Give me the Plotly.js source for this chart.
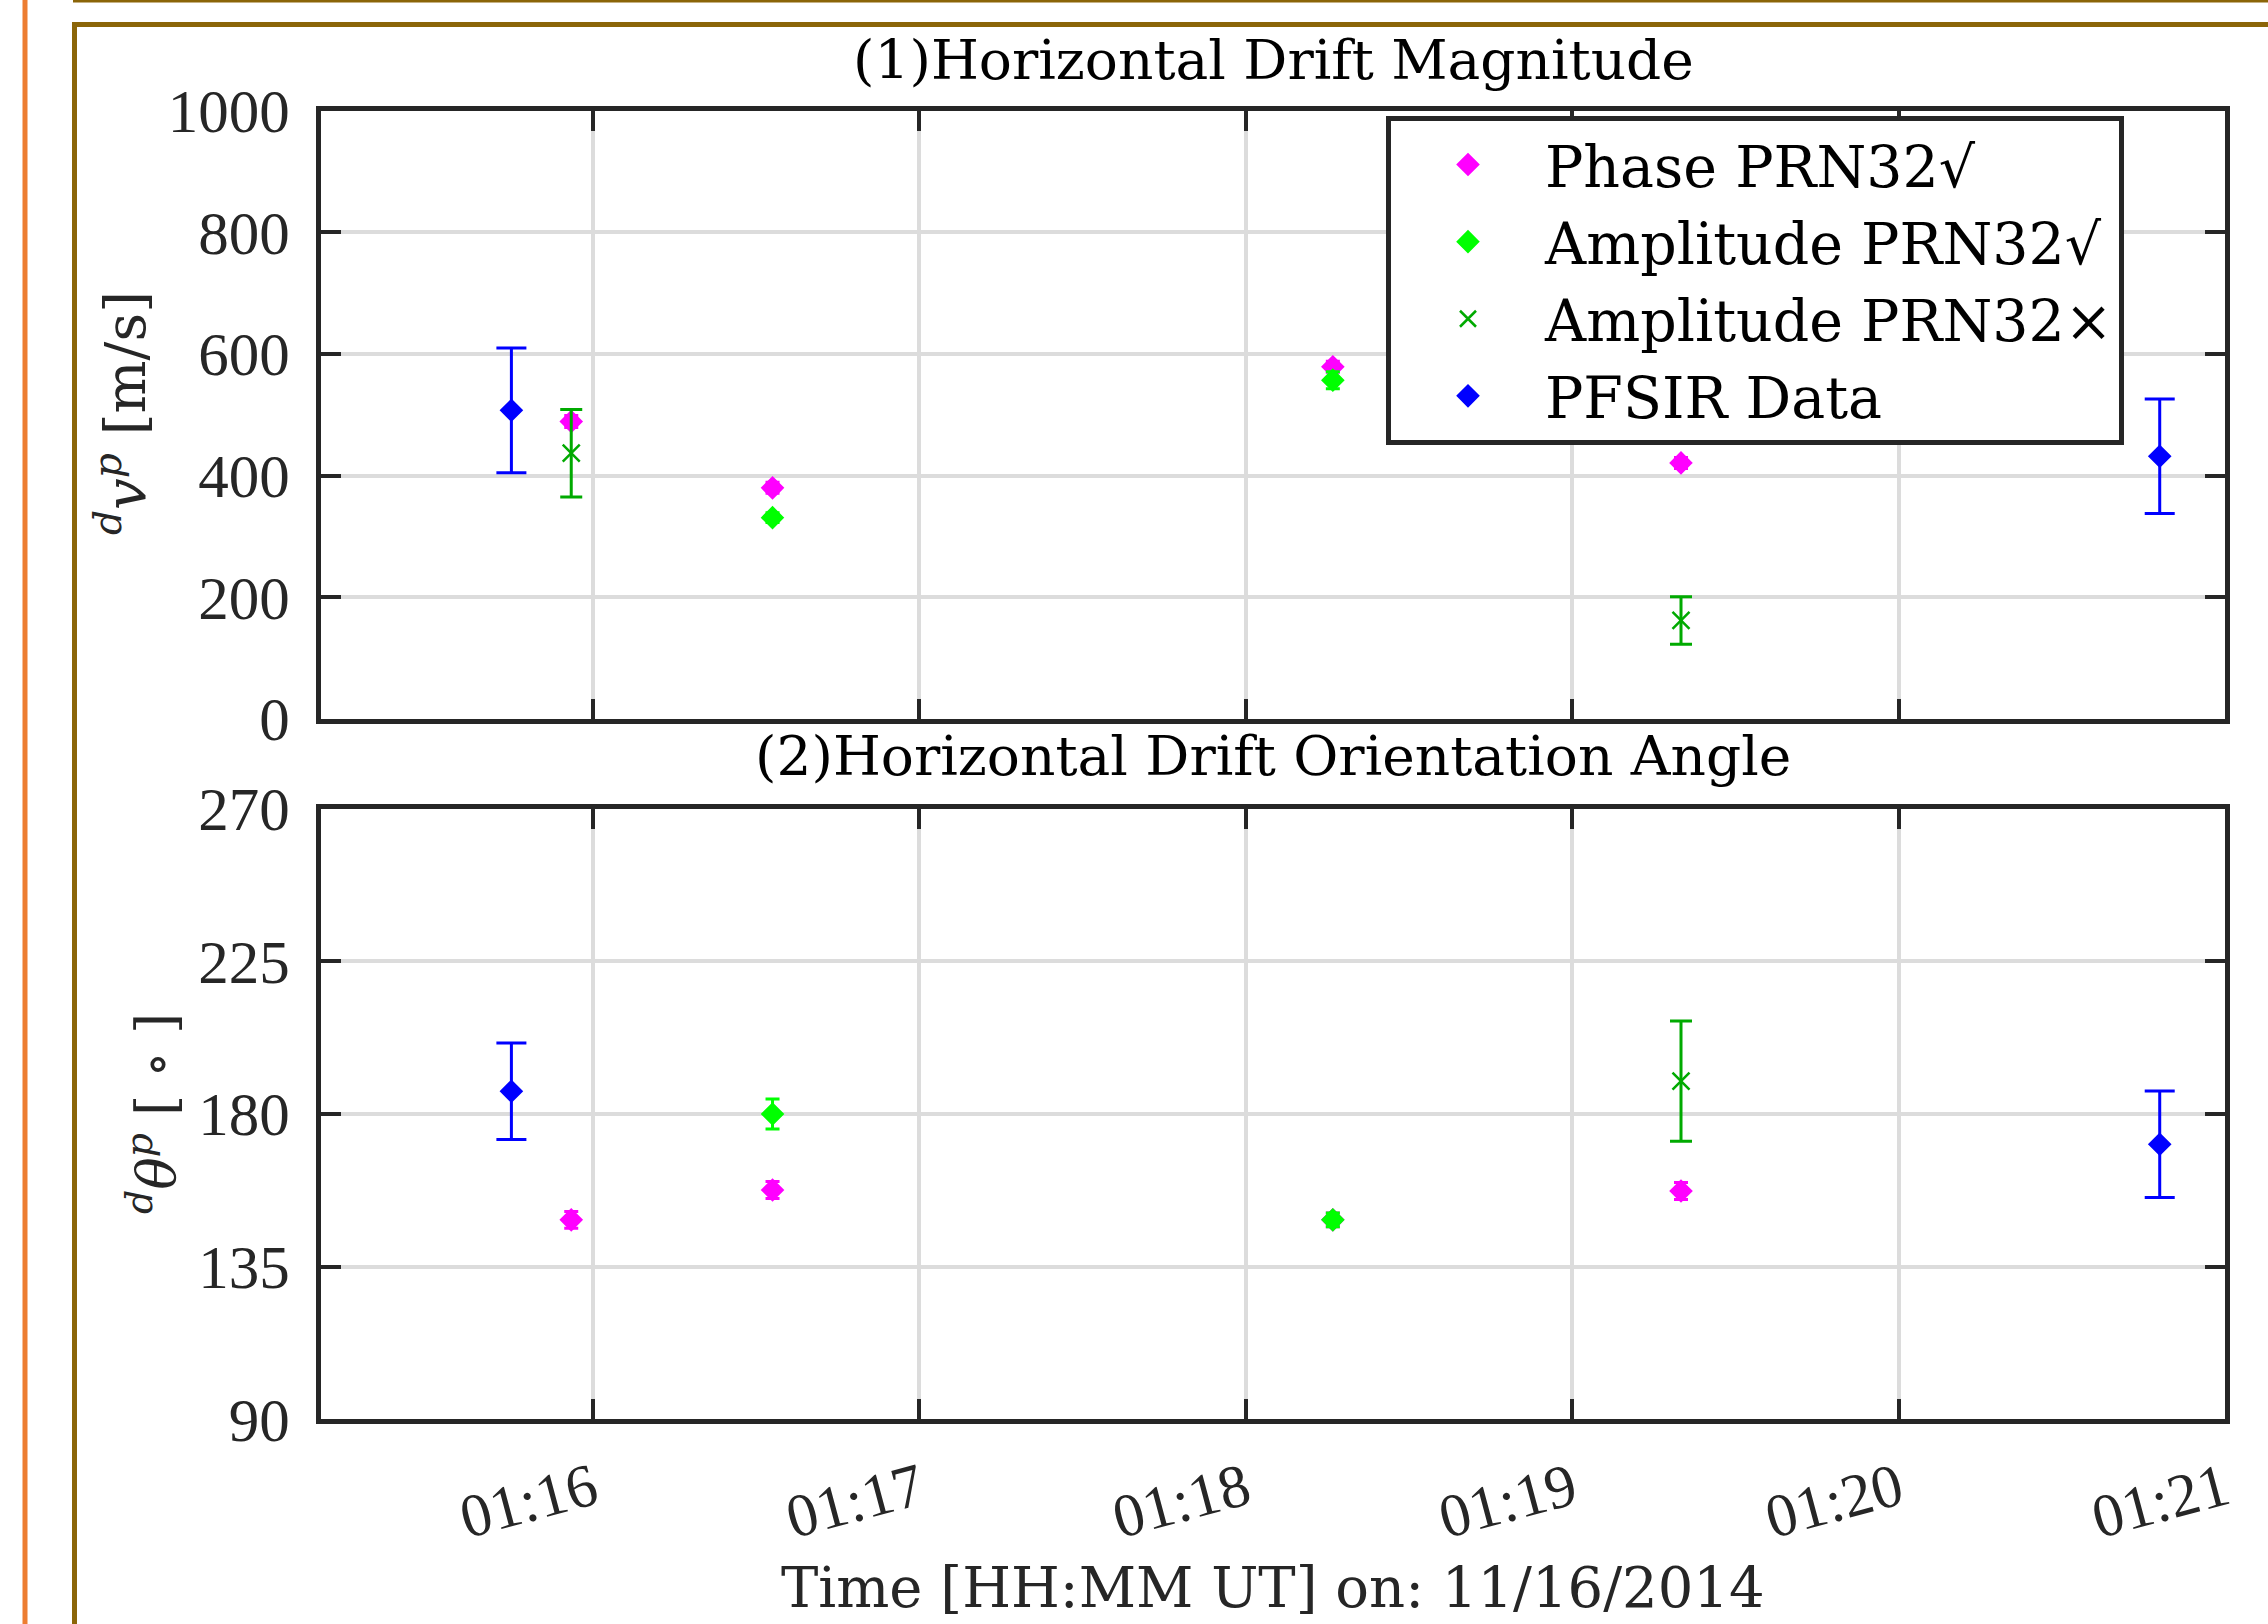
<!DOCTYPE html>
<html>
<head>
<meta charset="utf-8">
<script src="https://cdn.plot.ly/plotly-3.0.1.min.js"></script>
<style>
  html, body { margin: 0; padding: 0; background: #ffffff; }
  #chart { width: 2268px; height: 1624px; }
</style>
</head>
<body>
<div id="chart"></div>
<script>
// ---- Phase PRN32 (accepted) ----
const phaseTime = ['2014-11-16 01:15:56', '2014-11-16 01:16:33', '2014-11-16 01:18:16', '2014-11-16 01:19:20'];
const phaseSpeed = [489, 380, 579, 421];
const phaseSpeedErr = [10, 9, 9, 9];
const phaseAngle = [148.8, 157.6, 148.8, 157.3];
const phaseAngleErr = [2.5, 2.5, 2, 2.5];

// ---- Amplitude PRN32 (accepted) ----
const ampOkTime = ['2014-11-16 01:16:33', '2014-11-16 01:18:16'];
const ampOkSpeed = [331, 557];
const ampOkSpeedErr = [8, 14];
const ampOkAngle = [180, 148.8];
const ampOkAngleErr = [4.4, 2];

// ---- Amplitude PRN32 (rejected) ----
const ampBadTime = ['2014-11-16 01:15:56', '2014-11-16 01:19:20'];
const ampBadSpeed = [437, 162];
const ampBadSpeedErr = [72, 39];
const ampBadAngle = [null, 189.7];
const ampBadAngleErr = [0, 17.7];

// ---- PFSIR radar ----
const pfsirTime = ['2014-11-16 01:15:45', '2014-11-16 01:20:48'];
const pfsirSpeed = [507.5, 432];
const pfsirSpeedErr = [102.5, 94];
const pfsirAngle = [186.7, 171.1];
const pfsirAngleErr = [14.2, 15.7];

// ---- Axis settings ----
const timeRange = ['2014-11-16 01:15:10', '2014-11-16 01:21:00'];
const speedTicks = [0, 200, 400, 600, 800, 1000];
const angleTicks = [90, 135, 180, 225, 270];

const seriesNames = ['Phase PRN32\u221A', 'Amplitude PRN32\u221A', 'Amplitude PRN32\u00D7', 'PFSIR Data'];

const TICKFONT = '"Liberation Serif", "Times New Roman", serif';
const TEXTFONT = '"DejaVu Serif", "Liberation Serif", serif';
const INK = '#262626';
const W = 2268, H = 1624;
const px = v => v / W;
const py = v => 1 - v / H;

const MAGENTA = '#ff00ff', LIME = '#00ff00', DKGREEN = '#00aa00', BLUE = '#0000ff';

function diamondTrace(name, x, y, err, color, xa, ya, cap, show) {
  return {
    type: 'scatter', mode: 'markers', name: name, x: x, y: y,
    xaxis: xa, yaxis: ya, legendgroup: name, showlegend: show,
    marker: { symbol: 'diamond', size: 16, color: color, line: { color: color, width: 2 } },
    error_y: { type: 'data', array: err, visible: true, color: color, thickness: 3, width: cap }
  };
}
function crossTrace(name, x, y, err, color, xa, ya, cap, show) {
  return {
    type: 'scatter', mode: 'markers', name: name, x: x, y: y,
    xaxis: xa, yaxis: ya, legendgroup: name, showlegend: show,
    marker: { symbol: 'x-thin-open', size: 17, color: color, line: { color: color, width: 2.5 } },
    error_y: { type: 'data', array: err, visible: true, color: color, thickness: 3, width: cap }
  };
}

const traces = [
  diamondTrace(seriesNames[0], phaseTime, phaseSpeed, phaseSpeedErr, MAGENTA, 'x', 'y', 7, true),
  diamondTrace(seriesNames[1], ampOkTime, ampOkSpeed, ampOkSpeedErr, LIME, 'x', 'y', 7, true),
  crossTrace(seriesNames[2], ampBadTime, ampBadSpeed, ampBadSpeedErr, DKGREEN, 'x', 'y', 11, true),
  diamondTrace(seriesNames[3], pfsirTime, pfsirSpeed, pfsirSpeedErr, BLUE, 'x', 'y', 15, true),
  diamondTrace(seriesNames[0], phaseTime, phaseAngle, phaseAngleErr, MAGENTA, 'x2', 'y2', 7, false),
  diamondTrace(seriesNames[1], ampOkTime, ampOkAngle, ampOkAngleErr, LIME, 'x2', 'y2', 7, false),
  crossTrace(seriesNames[2], ampBadTime, ampBadAngle, ampBadAngleErr, DKGREEN, 'x2', 'y2', 11, false),
  diamondTrace(seriesNames[3], pfsirTime, pfsirAngle, pfsirAngleErr, BLUE, 'x2', 'y2', 15, false)
];

const common = {
  showline: true, linecolor: INK, linewidth: 5, mirror: 'ticks',
  ticks: 'inside', ticklen: 20, tickwidth: 4, tickcolor: INK,
  showgrid: true, gridcolor: '#dcdcdc', gridwidth: 4,
  zeroline: false, tickfont: { family: TICKFONT, size: 61, color: INK }
};

const xDomain = [px(321), px(2225)];

const layout = {
  width: W, height: H,
  margin: { l: 0, r: 0, t: 0, b: 0, pad: 0 },
  paper_bgcolor: '#ffffff', plot_bgcolor: '#ffffff',
  font: { family: TEXTFONT, color: INK },
  showlegend: true,
  legend: {
    x: px(1386), y: py(116), xanchor: 'left', yanchor: 'top',
    bgcolor: '#ffffff', bordercolor: INK, borderwidth: 5,
    font: { family: TEXTFONT, size: 57, color: '#000000' },
    itemwidth: 144, tracegroupgap: 0
  },
  xaxis: Object.assign({}, common, {
    type: 'date', domain: xDomain, anchor: 'y', range: timeRange,
    tick0: '2014-11-16 01:16:00', dtick: 60000, showticklabels: false
  }),
  yaxis: Object.assign({}, common, {
    domain: [py(719), py(110.7)], anchor: 'x', range: [speedTicks[0], speedTicks[speedTicks.length - 1]],
    tickvals: speedTicks, ticktext: speedTicks.map(String), ticklabelstandoff: 14
  }),
  xaxis2: Object.assign({}, common, {
    type: 'date', domain: xDomain, anchor: 'y2', range: timeRange,
    tick0: '2014-11-16 01:16:00', dtick: 60000, tickformat: '%H:%M', tickangle: -15,
    ticklabelstandoff: 6
  }),
  yaxis2: Object.assign({}, common, {
    domain: [py(1419.4), py(808.6)], anchor: 'x2', range: [angleTicks[0], angleTicks[angleTicks.length - 1]],
    tickvals: angleTicks, ticktext: angleTicks.map(String), ticklabelstandoff: 14
  }),
  annotations: [
    { text: '(1)Horizontal Drift Magnitude', xref: 'paper', yref: 'paper', x: px(1273), y: py(60),
      xanchor: 'center', yanchor: 'middle', showarrow: false, font: { family: TEXTFONT, size: 55, color: '#000000' } },
    { text: '(2)Horizontal Drift Orientation Angle', xref: 'paper', yref: 'paper', x: px(1273), y: py(756),
      xanchor: 'center', yanchor: 'middle', showarrow: false, font: { family: TEXTFONT, size: 55, color: '#000000' } },
    { text: 'Time [HH:MM UT] on: 11/16/2014', xref: 'paper', yref: 'paper', x: px(1273), y: py(1587),
      xanchor: 'center', yanchor: 'middle', showarrow: false, font: { family: TEXTFONT, size: 56, color: INK } },
    { text: '<sup><i>d</i></sup><i>v</i><sup><i>p</i></sup> [m/s]', xref: 'paper', yref: 'paper', x: px(122), y: py(413),
      xanchor: 'center', yanchor: 'middle', textangle: -90, showarrow: false, font: { family: TEXTFONT, size: 56, color: INK } },
    { text: '<sup><i>d</i></sup><i>\u03B8</i><sup><i>p</i></sup> [ \u2218 ]', xref: 'paper', yref: 'paper', x: px(152), y: py(1114),
      xanchor: 'center', yanchor: 'middle', textangle: -90, showarrow: false, font: { family: TEXTFONT, size: 54, color: INK } }
  ],
  shapes: [
    // page frame lines around the figure
    { type: 'line', xref: 'paper', yref: 'paper', x0: px(25), x1: px(25), y0: 0, y1: 1, line: { color: '#ed7d31', width: 5 } },
    { type: 'line', xref: 'paper', yref: 'paper', x0: px(73), x1: 1, y0: py(1), y1: py(1), line: { color: '#8b6508', width: 3 } },
    { type: 'line', xref: 'paper', yref: 'paper', x0: px(74.5), x1: 1, y0: py(24.5), y1: py(24.5), line: { color: '#8b6508', width: 5 } },
    { type: 'line', xref: 'paper', yref: 'paper', x0: px(74.5), x1: px(74.5), y0: 0, y1: py(22), line: { color: '#8b6508', width: 5 } }
  ]
};

Plotly.newPlot('chart', traces, layout, { staticPlot: true, displayModeBar: false });
</script>
</body>
</html>
